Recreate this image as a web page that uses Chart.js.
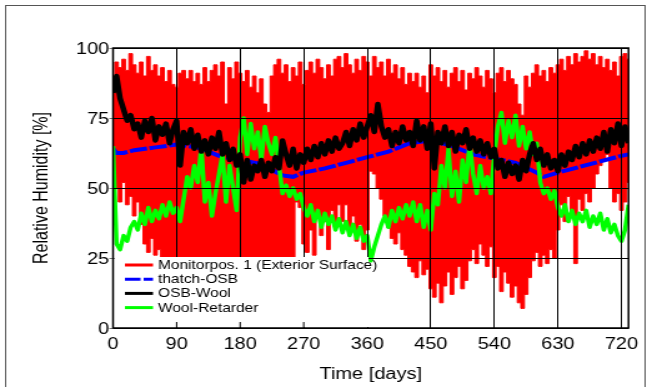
<!DOCTYPE html>
<html>
<head>
<meta charset="utf-8">
<script src="https://cdn.jsdelivr.net/npm/chart.js@4.4.0/dist/chart.umd.min.js"></script>
<style>
html, body { margin: 0; padding: 0; background: #fff; overflow: hidden; }
/* the original picture is stretched sideways, so draw narrow and widen it */
#wrap { width: 518px; height: 387px; transform: scaleX(1.249); transform-origin: 0 0; }
</style>
</head>
<body>
<div id="wrap"><canvas id="rhChart" width="518" height="387"></canvas></div>
<script>
// noisy series every 5 days (day 0 .. 730)
var STEP = 5;

// Monitorpos. 1 - upper and lower edge of the red band
var redHi = [
  88, 95, 93, 96, 92, 98, 94, 91, 95, 90,
  97, 92, 94, 90, 93, 88, 92, 87, 86, 91,
  92, 89, 92, 88, 91, 87, 93, 88, 92, 94,
  90, 95, 80, 93, 89, 95, 91, 88, 92, 86,
  90, 84, 89, 80, 77, 90, 94, 96, 91, 94,
  88, 93, 90, 95, 87, 92, 95, 91, 96, 93,
  89, 94, 90, 96, 97, 93, 98, 94, 91, 96,
  92, 97, 95, 90, 97, 93, 95, 90, 96, 91,
  94, 89, 93, 87, 91, 88, 91, 86, 90, 84,
  94, 90, 93, 88, 92, 86, 91, 93, 88, 92,
  85, 91, 89, 93, 90, 86, 92, 89, 84, 91,
  93, 88, 92, 89, 87, 80, 76, 90, 86, 91,
  94, 90, 92, 88, 93, 91, 94, 96, 92, 97,
  94, 98, 95, 97, 99, 96, 98, 94, 97, 93,
  96, 92, 95, 90, 97, 98, 96
];
var redLo = [
  42, 50, 45, 52, 44, 47, 40, 45, 37, 30,
  27, 32, 26, 28, 22, 20, 18, 21, 19, 17,
  20, 18, 21, 17, 19, 20, 18, 16, 19, 21,
  18, 20, 17, 19, 21, 18, 20, 17, 19, 18,
  20, 17, 19, 21, 18, 20, 19, 17, 20, 18,
  19, 22, 45, 43, 30, 27, 35, 26, 40, 33,
  38, 28, 42, 36, 44, 38, 44, 35, 40, 31,
  37, 28, 35, 56, 55, 50, 46, 40, 36, 32,
  30, 34, 28, 26, 22, 20, 18, 24, 19, 21,
  14, 11, 16, 9, 15, 20, 12, 18, 22, 14,
  17, 24, 28, 23, 30, 26, 22, 29, 18, 22,
  13, 20, 16, 11, 15, 9, 7, 12, 18, 24,
  27, 22, 26, 23, 28, 25, 35, 44, 38, 47,
  40, 23, 46, 42, 48, 45, 50, 55, 58, 60,
  62, 50, 45, 48, 42, 45, 52
];

// OSB-Wool
var blackRH = [
  84, 90, 82, 78, 74, 76, 71, 73, 68, 74,
  70, 75, 67, 72, 69, 73, 66, 71, 74, 58,
  70, 66, 71, 64, 69, 63, 67, 62, 68, 64,
  70, 62, 66, 60, 64, 58, 62, 52, 60, 53,
  58, 56, 60, 54, 59, 56, 61, 57, 67, 62,
  58, 64, 57, 62, 59, 64, 60, 65, 61, 66,
  62, 67, 63, 68, 64, 66, 70, 65, 71, 67,
  73, 68, 72, 76, 70, 80, 72, 68, 71, 65,
  70, 66, 72, 67, 70, 65, 74, 67, 72, 64,
  73, 57, 70, 66, 72, 65, 70, 63, 69, 66,
  71, 64, 68, 63, 67, 62, 66, 61, 64, 57,
  60, 54, 59, 55, 58, 53, 60, 56, 62, 66,
  60, 64, 58, 62, 57, 60, 56, 62, 58, 63,
  60, 65, 61, 66, 62, 67, 63, 68, 64, 70,
  63, 71, 66, 73, 65, 72, 66
];

// Wool-Retarder
var greenRH = [
  65, 30, 28, 33, 31, 36, 38, 35, 41, 37,
  43, 38, 42, 39, 44, 40, 45, 41, 43, 38,
  46, 54, 50, 58, 52, 65, 45, 52, 40, 48,
  55, 62, 45, 58, 50, 42, 68, 75, 62, 73,
  64, 70, 60, 72, 66, 62, 68, 58, 48, 51,
  47, 50, 46, 48, 43, 40, 44, 38, 42, 36,
  41, 37, 40, 35, 39, 34, 38, 33, 37, 32,
  36, 31, 33, 24, 29, 33, 37, 40, 36, 42,
  38, 43, 39, 44, 40, 45, 38, 44, 36, 42,
  35, 48, 44, 58, 50, 64, 47, 56, 45, 60,
  52, 66, 55, 48, 58, 50, 54, 48, 62, 72,
  77, 66, 74, 68, 76, 65, 72, 64, 70, 62,
  66, 52, 48, 50, 46, 49, 43, 40, 44, 38,
  42, 37, 41, 38, 42, 36, 40, 37, 41, 35,
  39, 34, 37, 33, 31, 35, 44
];

// thatch-OSB (smooth)
var blueDays = [0, 5, 15, 30, 60, 90, 120, 150, 180, 210, 240, 255, 270, 300, 330, 360,
                390, 420, 450, 480, 510, 540, 570, 600, 610, 630, 660, 690, 720, 730];
var blueRH = [64, 62.5, 62.5, 63.5, 64.5, 65.5, 64.5, 61.5, 60, 58.5, 54.5, 54, 55.5, 57, 59, 61,
              63, 66, 67, 65, 62, 60.5, 59, 55.5, 54, 55.5, 57.5, 59.5, 61.5, 62];

var xTicks = [0, 90, 180, 270, 360, 450, 540, 630, 720];
var seriesNames = ['Monitorpos. 1 (Exterior Surface)', 'thatch-OSB', 'OSB-Wool', 'Wool-Retarder'];

var FONT = '"Liberation Sans", Arial, Helvetica, sans-serif';

function pts(vals) {
  return vals.map(function (v, i) { return { x: i * STEP, y: v }; });
}
var blueData = blueDays.map(function (d, i) { return { x: d, y: blueRH[i] }; });

// legend box, inner ticks and frames drawn on top
var framePlugin = {
  id: 'frame',
  afterDraw: function (chart) {
    var ctx = chart.ctx, a = chart.chartArea;
    var xs = chart.scales.x, ys = chart.scales.y;
    ctx.save();

    var bx0 = a.left + 1, bx1 = xs.getPixelForValue(360) + 1;
    var by0 = ys.getPixelForValue(25) - 1, by1 = a.bottom - 1;
    ctx.fillStyle = '#fff';
    ctx.fillRect(bx0, by0, bx1 - bx0, by1 - by0);

    ctx.strokeStyle = '#000';
    ctx.lineWidth = 1;
    [90, 180, 270].forEach(function (d) {
      var px = xs.getPixelForValue(d);
      ctx.beginPath();
      ctx.moveTo(px, a.bottom);
      ctx.lineTo(px, a.bottom - 6);
      ctx.stroke();
    });

    var cols = ['#ff0000', '#0000ff', '#000000', '#00ff00'];
    ctx.font = '12.4px ' + FONT;
    ctx.textBaseline = 'middle';
    ctx.textAlign = 'left';
    for (var i = 0; i < 4; i++) {
      var y = by0 + 8 + i * 14.2;
      ctx.strokeStyle = cols[i];
      ctx.lineWidth = 3;
      ctx.setLineDash(i === 1 ? [12.5, 2.5] : []);
      ctx.beginPath();
      ctx.moveTo(100, y);
      ctx.lineTo(122.5, y);
      ctx.stroke();
      ctx.setLineDash([]);
      ctx.fillStyle = '#000';
      ctx.fillText(seriesNames[i], 126.5, y + 0.5);
    }

    ctx.strokeStyle = '#000';
    ctx.lineWidth = 1.5;
    ctx.strokeRect(a.left, a.top, a.right - a.left, a.bottom - a.top);

    ctx.strokeStyle = '#555';
    ctx.lineWidth = 1;
    ctx.strokeRect(4.5, 5.5, 512, 400);
    ctx.restore();
  }
};

var ctx = document.getElementById('rhChart').getContext('2d');
var chart = new Chart(ctx, {
  type: 'line',
  data: {
    datasets: [{
      label: seriesNames[2],
      data: pts(blackRH),
      borderColor: '#000000',
      borderWidth: 4.5,
      borderJoinStyle: 'round',
      pointRadius: 0,
      fill: false
    }, {
      label: seriesNames[3],
      data: pts(greenRH),
      borderColor: '#00ff00',
      borderWidth: 3.5,
      borderJoinStyle: 'round',
      pointRadius: 0,
      fill: false
    }, {
      label: seriesNames[1],
      data: blueData,
      borderColor: '#0000ff',
      borderWidth: 4,
      borderDash: [14, 2],
      pointRadius: 0,
      fill: false
    }, {
      label: seriesNames[0],
      data: pts(redHi),
      borderColor: '#ff0000',
      backgroundColor: '#ff0000',
      borderWidth: 1,
      stepped: 'middle',
      pointRadius: 0,
      fill: '+1'
    }, {
      label: seriesNames[0] + ' low',
      data: pts(redLo),
      borderColor: '#ff0000',
      borderWidth: 1,
      stepped: 'middle',
      pointRadius: 0,
      fill: false
    }]
  },
  options: {
    responsive: false,
    animation: false,
    devicePixelRatio: 1,
    layout: { padding: { top: 48, right: 7.2, bottom: 0, left: 0 } },
    plugins: {
      legend: { display: false },
      tooltip: { enabled: false }
    },
    scales: {
      x: {
        type: 'linear',
        min: 0,
        max: 730,
        afterFit: function (s) { s.height = 59; },
        afterBuildTicks: function (s) { s.ticks = xTicks.map(function (v) { return { value: v }; }); },
        ticks: { padding: 7, color: '#000', maxRotation: 0, autoSkip: false, font: { family: FONT, size: 16 } },
        grid: { z: 1, color: '#000', lineWidth: 1, drawTicks: false },
        border: { display: false },
        title: { display: true, text: 'Time [days]', color: '#000', font: { family: FONT, size: 16 }, padding: { top: 0, bottom: 3 } }
      },
      y: {
        min: 0,
        max: 100,
        afterFit: function (s) { s.width = 90.5; },
        ticks: { stepSize: 25, padding: 0, labelOffset: 2, color: '#000', font: { family: FONT, size: 16 } },
        grid: { z: 1, color: '#000', lineWidth: 1, tickLength: 3, tickColor: '#777' },
        border: { display: false },
        title: { display: true, text: 'Relative Humidity [%]', color: '#000', font: { family: FONT, size: 16 }, padding: { top: 24, bottom: 0 } }
      }
    }
  },
  plugins: [framePlugin]
});
</script>
</body>
</html>
